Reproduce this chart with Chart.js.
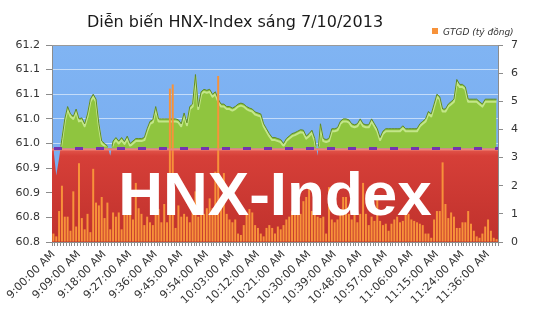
<!DOCTYPE html>
<html>
<head>
<meta charset="utf-8">
<script src="https://cdn.jsdelivr.net/npm/chart.js@4.4.0/dist/chart.umd.min.js"></script>
<style>
html, body { margin: 0; padding: 0; background: #fff; }
</style>
</head>
<body>
<canvas id="hnxChart" width="535" height="335"></canvas>
<script>
// session minutes (a few minutes missing around the 11:30 break)
var timeRanges = [['9:00', '11:29'], ['11:33', '11:39']];
var labelStep = 9;
var refLevel = 60.99;
var leftTickLabels = ['60.8', '60.8', '60.9', '60.9', '61.0', '61.0', '61.1', '61.1', '61.2'];

var hnxIndex = [
    60.99, 60.935, 60.97, 61.01, 61.05, 61.075, 61.06, 61.055, 61.07, 61.05,
    61.052, 61.04, 61.06, 61.09, 61.10, 61.09, 61.04, 61.005, 61.0, 60.995,
    60.975, 61.005, 61.012, 61.005, 61.012, 61.004, 61.015, 61.0, 61.005, 61.01,
    61.01, 61.01, 61.012, 61.03, 61.045, 61.048, 61.075, 61.05, 61.05, 61.05,
    61.05, 61.05, 61.05, 61.05, 61.048, 61.04, 61.062, 61.042, 61.075, 61.08,
    61.14, 61.075, 61.105, 61.11, 61.108, 61.11, 61.10, 61.105, 61.09, 61.08,
    61.08, 61.075, 61.075, 61.072, 61.075, 61.08, 61.082, 61.08, 61.075, 61.072,
    61.07, 61.064, 61.062, 61.06, 61.04, 61.03, 61.02, 61.012, 61.012, 61.01,
    61.008, 61.0, 61.01, 61.015, 61.02, 61.022, 61.025, 61.028, 61.027, 61.015,
    61.02, 61.027, 61.01, 60.975, 61.04, 61.01, 61.008, 61.01, 61.03, 61.03,
    61.032, 61.045, 61.05, 61.05, 61.048, 61.04, 61.038, 61.04, 61.05, 61.04,
    61.038, 61.038, 61.05, 61.04, 61.03, 61.012, 61.025, 61.03, 61.03, 61.03,
    61.03, 61.03, 61.03, 61.036, 61.03, 61.03, 61.03, 61.03, 61.03, 61.04,
    61.045, 61.05, 61.065, 61.06, 61.08, 61.10, 61.095, 61.07, 61.07, 61.08,
    61.085, 61.09, 61.13, 61.12, 61.12, 61.115, 61.09, 61.09, 61.09, 61.09,
    61.085, 61.08, 61.09, 61.09, 61.09, 61.09, 61.09
];

var gtgd = [
    0.3, 0.2, 1.1, 2.0, 0.9, 0.9, 0.4, 1.8, 0.55, 2.8,
    0.85, 0.45, 1.0, 0.35, 2.6, 1.4, 1.3, 1.6, 0.85, 1.4,
    0.45, 1.05, 0.9, 1.05, 0.45, 1.0, 1.5, 1.0, 0.8, 2.1,
    1.2, 1.0, 0.6, 0.9, 0.7, 0.6, 1.0, 1.17, 0.7, 1.35,
    0.7, 5.45, 5.6, 0.5, 1.3, 0.9, 1.0, 0.9, 0.7, 1.4,
    1.8, 0.9, 1.4, 1.0, 1.2, 1.55, 1.2, 2.5, 5.9, 1.4,
    2.45, 1.0, 0.8, 0.7, 0.8, 0.3, 0.25, 0.6, 1.05, 1.17,
    1.05, 0.6, 0.5, 0.3, 0.2, 0.5, 0.6, 0.5, 0.3, 0.55,
    0.45, 0.6, 0.8, 0.9, 1.1, 1.2, 1.3, 1.0, 1.45, 1.6,
    1.9, 1.1, 1.3, 0.9, 0.85, 0.9, 0.3, 1.95, 0.8, 0.7,
    0.8, 1.0, 1.6, 1.6, 1.0, 0.8, 1.0, 0.7, 1.0, 2.1,
    1.0, 0.6, 0.9, 0.75, 1.5, 0.75, 0.6, 0.65, 0.4, 0.65,
    0.8, 0.9, 0.7, 0.75, 1.0, 1.0, 0.8, 0.75, 0.7, 0.65,
    0.6, 0.3, 0.3, 0.15, 0.8, 1.1, 1.1, 2.83, 1.35, 0.85,
    1.05, 0.9, 0.5, 0.5, 0.7, 0.7, 1.1, 0.65, 0.4, 0.2,
    0.15, 0.3, 0.55, 0.8, 0.4, 0.15, 0.1
];

function toMin(s) {
    var p = s.split(':');
    return parseInt(p[0], 10) * 60 + parseInt(p[1], 10);
}
var labels = [];
timeRanges.forEach(function (r) {
    for (var m = toMin(r[0]); m <= toMin(r[1]); m++) {
        var mm = m % 60;
        labels.push(Math.floor(m / 60) + ':' + (mm < 10 ? '0' : '') + mm + ':00 AM');
    }
});

var axisFont = { family: 'DejaVu Sans', size: 11 };

var decor = {
    id: 'decor',
    beforeDraw: function (chart) {
        var ctx = chart.ctx, a = chart.chartArea;
        ctx.save();
        var g = ctx.createLinearGradient(0, a.top, 0, a.bottom);
        g.addColorStop(0, '#80b4f3');
        g.addColorStop(1, '#74aaef');
        ctx.fillStyle = g;
        ctx.fillRect(a.left, a.top, a.right - a.left, a.bottom - a.top);
        ctx.restore();
    },
    beforeDatasetsDraw: function (chart) {
        var ctx = chart.ctx, a = chart.chartArea;
        var yRef = chart.scales.y.getPixelForValue(refLevel);
        ctx.save();
        var g = ctx.createLinearGradient(0, yRef, 0, a.bottom);
        g.addColorStop(0, '#e45a50');
        g.addColorStop(0.08, '#d63f38');
        g.addColorStop(1, '#bf312c');
        ctx.fillStyle = g;
        ctx.fillRect(a.left, yRef, a.right - a.left, a.bottom - yRef);
        ctx.restore();
    },
    afterDatasetDraw: function (chart, args) {
        if (args.index !== 1) return;
        // light bevel just under the index outline
        var ctx = chart.ctx, a = chart.chartArea;
        var yRef = chart.scales.y.getPixelForValue(refLevel);
        var pts = args.meta.data;
        ctx.save();
        ctx.beginPath();
        ctx.rect(a.left, a.top, a.right - a.left, yRef - 2 - a.top);
        ctx.clip();
        ctx.strokeStyle = 'rgba(205,235,150,0.85)';
        ctx.lineWidth = 2;
        ctx.lineJoin = 'round';
        ctx.beginPath();
        pts.forEach(function (p, i) {
            if (i === 0) ctx.moveTo(p.x, p.y + 2.5); else ctx.lineTo(p.x, p.y + 2.5);
        });
        ctx.stroke();
        ctx.strokeStyle = '#5f8a28';
        ctx.lineWidth = 1;
        ctx.beginPath();
        pts.forEach(function (p, i) {
            if (i === 0) ctx.moveTo(p.x, p.y); else ctx.lineTo(p.x, p.y);
        });
        ctx.stroke();
        ctx.restore();
    },
    afterDatasetsDraw: function (chart) {
        var ctx = chart.ctx, a = chart.chartArea;
        var yRef = chart.scales.y.getPixelForValue(refLevel);
        ctx.save();
        ctx.strokeStyle = '#f08478';
        ctx.lineWidth = 2;
        ctx.beginPath();
        ctx.moveTo(a.left, yRef + 1);
        ctx.lineTo(a.right, yRef + 1);
        ctx.stroke();
        ctx.strokeStyle = '#7434b0';
        ctx.lineWidth = 3;
        ctx.setLineDash([8, 13]);
        ctx.beginPath();
        ctx.moveTo(a.left + 2, yRef);
        ctx.lineTo(a.right, yRef);
        ctx.stroke();
        ctx.setLineDash([]);
        // watermark
        ctx.fillStyle = '#ffffff';
        ctx.font = 'bold 62px "Liberation Sans"';
        ctx.textAlign = 'center';
        ctx.textBaseline = 'alphabetic';
        ctx.fillText('HNX-Index', (a.left + a.right) / 2, a.bottom - 27);
        // frame top
        ctx.strokeStyle = '#9a9a9a';
        ctx.lineWidth = 1;
        ctx.beginPath();
        ctx.moveTo(a.left, a.top + 0.5);
        ctx.lineTo(a.right, a.top + 0.5);
        ctx.stroke();
        ctx.restore();
    },
    afterDraw: function (chart) {
        var ctx = chart.ctx;
        ctx.save();
        ctx.fillStyle = '#1a1a1a';
        ctx.font = '16px "DejaVu Sans"';
        ctx.textAlign = 'center';
        ctx.textBaseline = 'alphabetic';
        ctx.fillText('Diễn biến HNX-Index sáng 7/10/2013', 235, 27);
        ctx.fillStyle = '#f7923a';
        ctx.fillRect(432, 28, 6, 6);
        ctx.fillStyle = '#333';
        ctx.font = 'italic 9px "DejaVu Sans"';
        ctx.textAlign = 'left';
        ctx.fillText('GTGD (tỷ đồng)', 443, 35);
        ctx.restore();
    }
};

var ctx = document.getElementById('hnxChart');
new Chart(ctx, {
    type: 'bar',
    data: {
        labels: labels,
        datasets: [
            {
                type: 'bar',
                label: 'GTGD (tỷ đồng)',
                data: gtgd,
                yAxisID: 'y1',
                backgroundColor: '#f7923a',
                barPercentage: 0.7,
                categoryPercentage: 1,
                order: 0
            },
            {
                type: 'line',
                label: 'HNX-Index',
                data: hnxIndex,
                yAxisID: 'y',
                borderColor: 'rgba(0,0,0,0)',
                borderWidth: 1,
                pointRadius: 0,
                tension: 0,
                fill: { target: { value: refLevel }, above: '#8fc53f', below: '#79aff1' },
                order: 1
            }
        ]
    },
    options: {
        responsive: false,
        animation: false,
        layout: { padding: { top: 45 } },
        plugins: {
            legend: { display: false },
            title: { display: false },
            tooltip: { enabled: false }
        },
        scales: {
            x: {
                offset: true,
                grid: { drawOnChartArea: false, tickLength: 4, color: '#8c8c8c' },
                border: { color: '#8c8c8c' },
                ticks: {
                    autoSkip: false,
                    minRotation: 45,
                    maxRotation: 45,
                    padding: 2,
                    color: '#333',
                    font: axisFont,
                    callback: function (v, i) {
                        return i % labelStep === 0 ? labels[i] : '';
                    }
                },
                afterFit: function (s) { s.height = 93; }
            },
            y: {
                position: 'left',
                min: 60.8,
                max: 61.2,
                ticks: {
                    stepSize: 0.05,
                    padding: 6,
                    color: '#333',
                    font: axisFont,
                    callback: function (v, i) { return leftTickLabels[i]; }
                },
                grid: { color: 'rgba(255,255,255,0.55)', tickColor: '#8c8c8c', tickLength: 6 },
                border: { color: '#8c8c8c' },
                afterFit: function (s) { s.width = 52; }
            },
            y1: {
                position: 'right',
                min: 0,
                max: 7,
                ticks: { stepSize: 1, padding: 8, color: '#333', font: axisFont },
                grid: { drawOnChartArea: false, tickColor: '#8c8c8c', tickLength: 5 },
                border: { color: '#8c8c8c' },
                afterFit: function (s) { s.width = 37; }
            }
        }
    },
    plugins: [decor]
});
</script>
</body>
</html>
